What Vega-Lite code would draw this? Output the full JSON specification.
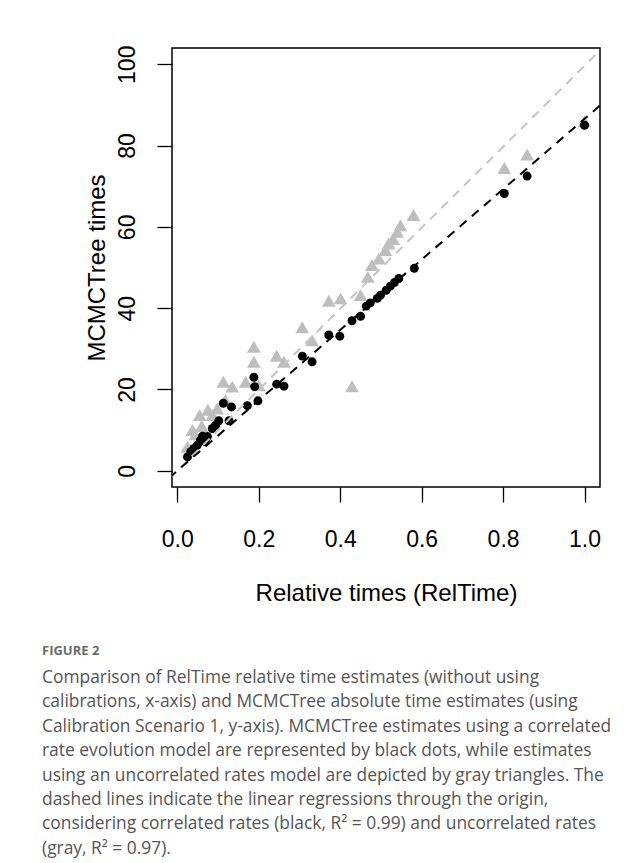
{
  "$schema": "https://vega.github.io/schema/vega-lite/v6.json",
  "autosize": {"type": "none"},
  "width": 428,
  "height": 439,
  "padding": {"left": 172, "top": 48, "right": 44, "bottom": 376},
  "background": "white",
  "config": {
    "view": {"stroke": "black", "strokeWidth": 1.5},
    "axis": {
      "labelFont": "Liberation Sans",
      "titleFont": "Liberation Sans",
      "labelColor": "black",
      "titleColor": "black",
      "titleFontWeight": "normal",
      "tickColor": "black",
      "tickWidth": 1.3,
      "tickSize": 15,
      "domain": false,
      "grid": false,
      "labelFontSize": 23,
      "titleFontSize": 24
    }
  },
  "title": {
    "text": "FIGURE 2",
    "subtitle": [
      "Comparison of RelTime relative time estimates (without using",
      "calibrations, x-axis) and MCMCTree absolute time estimates (using",
      "Calibration Scenario 1, y-axis). MCMCTree estimates using a correlated",
      "rate evolution model are represented by black dots, while estimates",
      "using an uncorrelated rates model are depicted by gray triangles. The",
      "dashed lines indicate the linear regressions through the origin,",
      "considering correlated rates (black, R² = 0.99) and uncorrelated rates",
      "(gray, R² = 0.97)."
    ],
    "orient": "bottom",
    "anchor": "start",
    "frame": "group",
    "dx": -130,
    "offset": 40,
    "font": "Open Sans",
    "fontSize": 13,
    "fontWeight": "bold",
    "color": "#6b6b6b",
    "subtitleFont": "Open Sans",
    "subtitleFontSize": 17.4,
    "subtitleColor": "#555555",
    "subtitleLineHeight": 24.4,
    "subtitlePadding": 11
  },
  "datasets": {
    "points": [
      {"model": "correlated", "rel": 1.0, "mcmc": 85.0},
      {"model": "correlated", "rel": 0.859, "mcmc": 72.5},
      {"model": "correlated", "rel": 0.803, "mcmc": 68.2},
      {"model": "correlated", "rel": 0.582, "mcmc": 49.8},
      {"model": "correlated", "rel": 0.544, "mcmc": 47.3},
      {"model": "correlated", "rel": 0.533, "mcmc": 46.3},
      {"model": "correlated", "rel": 0.523, "mcmc": 45.4},
      {"model": "correlated", "rel": 0.513, "mcmc": 44.4},
      {"model": "correlated", "rel": 0.499, "mcmc": 43.2},
      {"model": "correlated", "rel": 0.491, "mcmc": 42.4},
      {"model": "correlated", "rel": 0.474, "mcmc": 41.3},
      {"model": "correlated", "rel": 0.464, "mcmc": 40.5},
      {"model": "correlated", "rel": 0.45, "mcmc": 38.0},
      {"model": "correlated", "rel": 0.429, "mcmc": 36.9},
      {"model": "correlated", "rel": 0.399, "mcmc": 33.1},
      {"model": "correlated", "rel": 0.372, "mcmc": 33.4},
      {"model": "correlated", "rel": 0.331, "mcmc": 26.8},
      {"model": "correlated", "rel": 0.307, "mcmc": 28.2},
      {"model": "correlated", "rel": 0.262, "mcmc": 20.8},
      {"model": "correlated", "rel": 0.244, "mcmc": 21.3},
      {"model": "correlated", "rel": 0.198, "mcmc": 17.2},
      {"model": "correlated", "rel": 0.188, "mcmc": 23.0},
      {"model": "correlated", "rel": 0.19, "mcmc": 20.7},
      {"model": "correlated", "rel": 0.172, "mcmc": 16.0},
      {"model": "correlated", "rel": 0.133, "mcmc": 15.7},
      {"model": "correlated", "rel": 0.113, "mcmc": 16.6},
      {"model": "correlated", "rel": 0.127, "mcmc": 12.3},
      {"model": "correlated", "rel": 0.102, "mcmc": 12.3},
      {"model": "correlated", "rel": 0.094, "mcmc": 11.2},
      {"model": "correlated", "rel": 0.086, "mcmc": 10.4},
      {"model": "correlated", "rel": 0.074, "mcmc": 8.4},
      {"model": "correlated", "rel": 0.069, "mcmc": 7.1},
      {"model": "correlated", "rel": 0.062, "mcmc": 8.5},
      {"model": "correlated", "rel": 0.057, "mcmc": 7.5},
      {"model": "correlated", "rel": 0.049, "mcmc": 6.3},
      {"model": "correlated", "rel": 0.041, "mcmc": 5.5},
      {"model": "correlated", "rel": 0.033, "mcmc": 4.7},
      {"model": "correlated", "rel": 0.025, "mcmc": 3.4},
      {"model": "uncorrelated", "rel": 1.0, "mcmc": 86.0},
      {"model": "uncorrelated", "rel": 0.859, "mcmc": 77.8},
      {"model": "uncorrelated", "rel": 0.803, "mcmc": 74.5},
      {"model": "uncorrelated", "rel": 0.58, "mcmc": 62.9},
      {"model": "uncorrelated", "rel": 0.548, "mcmc": 60.4},
      {"model": "uncorrelated", "rel": 0.54, "mcmc": 58.8},
      {"model": "uncorrelated", "rel": 0.53, "mcmc": 57.0},
      {"model": "uncorrelated", "rel": 0.519, "mcmc": 55.9},
      {"model": "uncorrelated", "rel": 0.511, "mcmc": 54.3},
      {"model": "uncorrelated", "rel": 0.495, "mcmc": 52.2},
      {"model": "uncorrelated", "rel": 0.478, "mcmc": 50.6},
      {"model": "uncorrelated", "rel": 0.468, "mcmc": 47.7},
      {"model": "uncorrelated", "rel": 0.45, "mcmc": 43.2},
      {"model": "uncorrelated", "rel": 0.429, "mcmc": 20.8},
      {"model": "uncorrelated", "rel": 0.401, "mcmc": 42.4},
      {"model": "uncorrelated", "rel": 0.372, "mcmc": 41.8},
      {"model": "uncorrelated", "rel": 0.331, "mcmc": 32.1},
      {"model": "uncorrelated", "rel": 0.307, "mcmc": 35.3},
      {"model": "uncorrelated", "rel": 0.262, "mcmc": 26.8},
      {"model": "uncorrelated", "rel": 0.244, "mcmc": 28.3},
      {"model": "uncorrelated", "rel": 0.2, "mcmc": 21.0},
      {"model": "uncorrelated", "rel": 0.188, "mcmc": 30.5},
      {"model": "uncorrelated", "rel": 0.188, "mcmc": 26.8},
      {"model": "uncorrelated", "rel": 0.168, "mcmc": 21.9},
      {"model": "uncorrelated", "rel": 0.135, "mcmc": 20.7},
      {"model": "uncorrelated", "rel": 0.113, "mcmc": 21.9},
      {"model": "uncorrelated", "rel": 0.118, "mcmc": 17.4},
      {"model": "uncorrelated", "rel": 0.098, "mcmc": 15.3},
      {"model": "uncorrelated", "rel": 0.086, "mcmc": 13.7},
      {"model": "uncorrelated", "rel": 0.075, "mcmc": 15.0},
      {"model": "uncorrelated", "rel": 0.06, "mcmc": 11.0},
      {"model": "uncorrelated", "rel": 0.055, "mcmc": 13.7},
      {"model": "uncorrelated", "rel": 0.045, "mcmc": 9.0},
      {"model": "uncorrelated", "rel": 0.037, "mcmc": 10.0},
      {"model": "uncorrelated", "rel": 0.025, "mcmc": 5.9}
    ],
    "fits": [
      {"model": "uncorrelated", "rel": -0.02, "mcmc": -1.99},
      {"model": "uncorrelated", "rel": 1.05, "mcmc": 104.6},
      {"model": "correlated", "rel": -0.02, "mcmc": -1.73},
      {"model": "correlated", "rel": 1.05, "mcmc": 90.9}
    ]
  },
  "encoding": {
    "x": {
      "field": "rel", "type": "quantitative",
      "scale": {"domain": [-0.013, 1.038], "nice": false, "zero": false},
      "axis": {"values": [0, 0.2, 0.4, 0.6, 0.8, 1.0], "format": ".1f", "title": "Relative times (RelTime)", "labelPadding": 26, "titlePadding": 30}
    },
    "y": {
      "field": "mcmc", "type": "quantitative",
      "scale": {"domain": [-4, 104], "nice": false, "zero": false},
      "axis": {"values": [0, 20, 40, 60, 80, 100], "labelAngle": -90, "labelAlign": "center", "labelBaseline": "bottom", "title": "MCMCTree times", "labelPadding": 18, "titlePadding": 7}
    }
  },
  "layer": [
    {
      "data": {"name": "points"},
      "transform": [{"filter": "datum.model === 'uncorrelated'"}],
      "mark": {"type": "point", "shape": "triangle-up", "filled": true, "color": "#bebebe", "size": 190, "opacity": 1}
    },
    {
      "data": {"name": "points"},
      "transform": [{"filter": "datum.model === 'correlated'"}],
      "mark": {"type": "circle", "color": "black", "size": 80, "opacity": 1}
    },
    {
      "data": {"name": "fits"},
      "mark": {"type": "line", "clip": true, "strokeDash": [9, 7], "strokeWidth": 2},
      "encoding": {
        "detail": {"field": "model"},
        "color": {"field": "model", "type": "nominal", "scale": {"domain": ["correlated", "uncorrelated"], "range": ["black", "#c4c4c4"]}, "legend": null}
      }
    }
  ]
}
